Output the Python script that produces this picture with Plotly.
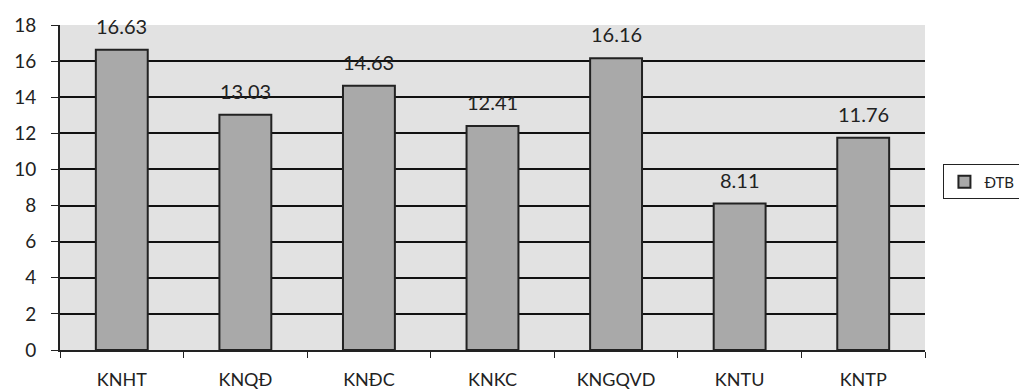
import plotly.graph_objects as go

categories = ["KNHT", "KNQĐ", "KNĐC", "KNKC", "KNGQVD", "KNTU", "KNTP"]
values = [16.63, 13.03, 14.63, 12.41, 16.16, 8.11, 11.76]
labels = ["16.63", "13.03", "14.63", "12.41", "16.16", "8.11", "11.76"]
y_ticks = [0, 2, 4, 6, 8, 10, 12, 14, 16, 18]

font_family = "Lato, Carlito, 'Liberation Sans', sans-serif"

fig = go.Figure()
fig.add_trace(go.Bar(
    x=categories, y=values, name="ĐTB",
    marker=dict(color="#a9a9a9", line=dict(color="#222222", width=2)),
    width=0.42,
))

for c, v, t in zip(categories, values, labels):
    fig.add_annotation(x=c, y=v, text=t, showarrow=False, yanchor="bottom",
                       yshift=10, font=dict(size=20, color="#222222", family=font_family))

fig.update_layout(
    width=1019, height=384,
    margin=dict(l=52, r=102, t=17, b=42),
    paper_bgcolor="white",
    plot_bgcolor="#e2e2e2",
    font=dict(family=font_family, size=19, color="#222222"),
    showlegend=True,
    legend=dict(xref="container", yref="container", x=0.918, y=0.547,
                xanchor="left", yanchor="middle",
                bordercolor="#222222", borderwidth=1, bgcolor="white",
                font=dict(size=15, color="#222222"), itemwidth=30,
                tracegroupgap=0),
    xaxis=dict(showline=True, linecolor="#222222", linewidth=2, automargin=False,
               ticks="outside", tickson="boundaries", ticklen=6, tickcolor="#222222",
               tickwidth=1, showgrid=False, ticklabelstandoff=12,
               tickfont=dict(size=18)),
    yaxis=dict(range=[0, 18], tickvals=y_ticks, showline=True, linecolor="#222222",
               linewidth=2, ticks="outside", ticklen=7, tickcolor="#222222",
               showgrid=True, gridcolor="#111111", gridwidth=2, automargin=False,
               zeroline=False, ticklabelstandoff=11, tickfont=dict(size=19)),
)

fig.write_html("out.html")
